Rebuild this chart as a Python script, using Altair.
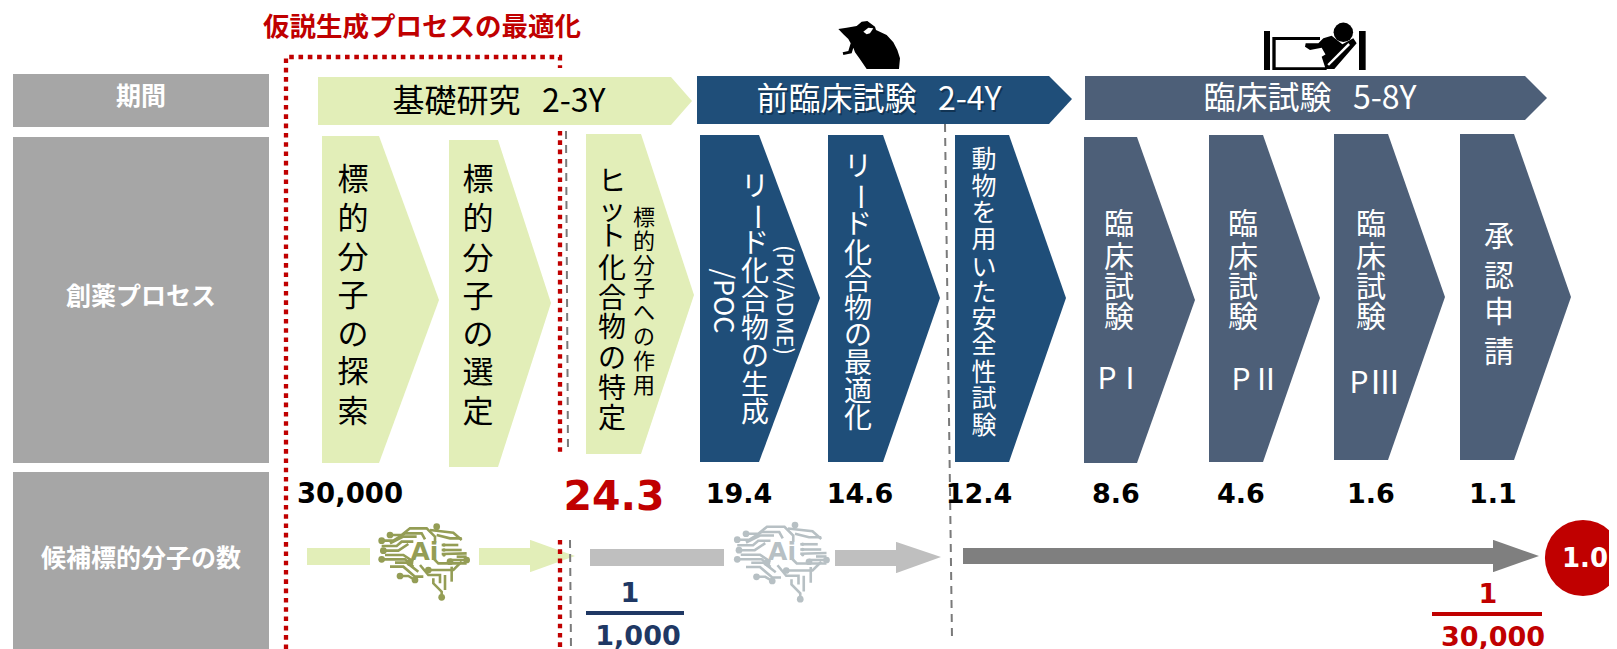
import altair as alt
import pandas as pd

# ---------- palette ----------
PALETTE = {
    "label": "#A6A6A6", "green": "#E2EEB8", "blue": "#1F4E79", "slate": "#4D5F78",
    "lgray": "#BFBFBF", "dgray": "#7F7F7F", "red": "#C00000", "navy": "#1F3864",
    "black": "#000000", "white": "#FFFFFF", "olive": "#949D55", "brain": "#B7C0C4",
    "dash": "#7A7A7A", "shadow": "#0C2A45",
}
ROLES = list(PALETTE)
COL = alt.Color("role:N", scale=alt.Scale(domain=ROLES, range=[PALETTE[r] for r in ROLES]), legend=None)

# ---------- rectangles: role, x0, x1, y0, y1 ----------
rects = [
    ("label", 13, 269, 74, 127), ("label", 13, 269, 137, 463), ("label", 13, 269, 472, 649),
    ("green", 307, 370, 548, 565), ("green", 479, 530, 548, 565),
    ("lgray", 590, 724, 549, 566), ("lgray", 835, 896, 550, 566),
    ("dgray", 963, 1493, 548, 564),
    ("navy", 586, 684, 611, 615), ("red", 1432, 1542, 612, 616),
]
# pentagons: role, left, shoulder, tip, top, tipY, bottom
pentagons = [
    ("green", 318, 671, 692, 77, 101, 125), ("blue", 697, 1049, 1072, 76, 99, 124), ("slate", 1085, 1525, 1547, 76, 98, 120),
    ("green", 322, 379, 439, 136, 300, 463), ("green", 449, 498, 551, 140, 303, 467), ("green", 586, 641, 694, 134, 295, 454),
    ("blue", 700, 759, 820, 135, 298, 462), ("blue", 828, 883, 940, 135, 298, 462), ("blue", 955, 1009, 1066, 135, 298, 462),
    ("slate", 1084, 1137, 1195, 137, 300, 463), ("slate", 1209, 1263, 1320, 135, 298, 462),
    ("slate", 1334, 1388, 1445, 134, 297, 460), ("slate", 1460, 1514, 1571, 134, 297, 460),
    ("green", 530, 530.5, 575, 540, 556, 572), ("lgray", 896, 896.5, 941, 542, 557, 573), ("dgray", 1493, 1493.5, 1539, 540, 556, 572),
]
# dashed / dotted polylines
red_lines = [
    [(286, 649), (286, 57), (560, 57), (560, 68)],
    [(560, 131), (560, 452)],
    [(560, 540), (560, 649)],
]
gray_lines = [
    [(566, 131), (568, 452)], [(570, 540), (571, 649)], [(945, 124), (952, 638)],
]
# horizontal text: text, x, y, size, role
texts_regular = [
    ("基礎研究\u00a0\u00a0\u00a02-3Y", 499, 102, 32, "black"),
    ("前臨床試験\u00a0\u00a0\u00a02-4Y", 879, 100, 32, "white"),
    ("臨床試験\u00a0\u00a0\u00a05-8Y", 1310, 99, 32, "white"),
    ("P", 1107, 380, 30, "white"), ("Ⅰ", 1130, 380, 30, "white"),
    ("P", 1241, 381, 30, "white"), ("Ⅱ", 1266, 381, 30, "white"),
    ("P", 1359, 384, 30, "white"), ("Ⅲ", 1385, 384, 32, "white"),
]
texts_cjk_bold = [
    ("仮説生成プロセスの最適化", 422, 28, 26.5, "red"),
    ("期間", 141, 97, 25, "white"),
    ("創薬プロセス", 141, 297, 25, "white"),
    ("候補標的分子の数", 141, 559, 25, "white"),
]
texts_num = [
    ("30,000", 350, 495, 27.5, "black"), ("24.3", 614, 498, 41, "red"),
    ("19.4", 739, 495, 27, "black"), ("14.6", 860, 495, 27, "black"),
    ("12.4", 979, 495, 27, "black"), ("8.6", 1116, 495, 27, "black"),
    ("4.6", 1241, 495, 27, "black"), ("1.6", 1371, 495, 27, "black"),
    ("1.1", 1493, 495, 27, "black"),
    ("1", 630, 594, 27, "navy"), ("1,000", 638, 637, 27, "navy"),
    ("1", 1488, 595, 27, "red"), ("30,000", 1493, 638, 27, "red"),
    ("1.0", 1585, 559, 26, "white"),
]
texts_rotated = [
    ("/POC", 722, 301, 27, "white"),
    ("(PK/ADME)", 784, 300, 22, "white"),
]
# vertical columns: text, x, y centres, size, role
columns = [
    ("標的分子の探索", 353, [181, 220, 259, 297, 336, 373, 413], 31, "black"),
    ("標的分子の選定", 478, [181, 220, 260, 298, 336, 374, 413], 31, "black"),
    ("ヒット化合物の特定", 612, [183, 212, 238, 270, 300, 329, 360, 390, 420], 28, "black"),
    ("標的分子への作用", 644, [218, 242, 266, 289, 313, 337, 362, 386], 22, "black"),
    ("リード化合物の生成", 755, [188, 217, 245, 273, 302, 330, 358, 387, 414], 28, "white"),
    ("リード化合物の最適化", 858, [168, 197, 226, 255, 282, 310, 337, 365, 393, 420], 28, "white"),
    ("動物を用いた安全性試験", 984, [160, 187, 213, 240, 268, 293, 320, 345, 373, 399, 426], 25, "white"),
    ("臨床試験", 1119, [225, 258, 288, 318], 30, "white"),
    ("臨床試験", 1243, [225, 258, 288, 318], 30, "white"),
    ("臨床試験", 1371, [225, 258, 288, 318], 30, "white"),
    ("承認申請", 1499, [237, 277, 313, 353], 30, "white"),
]
circle_center = [(1583, 558)]

# brain icon: traces in crop pixels (3x)
brain_traces = [
    [(65, 45), (95, 45), (120, 25), (170, 25), (195, 50), (195, 68)],
    [(35, 62), (70, 62), (105, 40), (155, 40), (165, 58)],
    [(180, 30), (250, 38), (275, 60)],
    [(200, 45), (240, 55), (275, 55)],
    [(35, 78), (80, 78), (95, 65), (130, 65)],
    [(40, 92), (85, 92), (115, 72)],
    [(60, 70), (100, 50), (140, 50)],
    [(215, 75), (265, 75)], [(215, 90), (275, 90)], [(215, 102), (290, 100)],
    [(35, 118), (105, 118), (130, 140)],
    [(45, 105), (100, 105), (130, 125)],
    [(60, 140), (100, 140), (135, 170), (160, 170)],
    [(75, 128), (110, 128), (145, 155)],
    [(90, 168), (115, 168), (135, 180)],
    [(170, 150), (250, 150), (275, 125)],
    [(150, 135), (175, 165), (210, 165), (210, 190)],
    [(190, 115), (205, 130), (235, 130), (290, 130)],
    [(240, 120), (290, 120)],
    [(260, 110), (290, 110)],
    [(190, 175), (190, 190), (215, 215), (215, 232)],
    [(225, 165), (225, 210)], [(245, 140), (245, 185)],
]
brain_dots = [(60, 45), (35, 118), (120, 128), (90, 168), (135, 180), (215, 232),
              (200, 20), (290, 120), (240, 125), (175, 150), (40, 92), (35, 62)]
brain_small = [(222, 75), (222, 90), (222, 105)]
brain_places = [("olive", 370, 520, 1.0), ("brain", 725, 518, 1.05)]

# mouse icon outline (crop px, origin 820,15, 3x)
mouse_body = [(55, 42), (80, 38), (110, 33), (125, 20), (142, 18), (165, 35), (168, 45), (200, 60), (220, 82), (232, 105),
              (240, 130), (237, 162), (140, 162), (118, 130), (105, 112), (100, 98), (95, 115), (70, 120), (68, 112),
              (85, 108), (92, 85), (85, 72), (70, 58)]
mouse_ear = [(130, 50), (145, 38), (160, 40), (150, 55), (140, 58)]
# bed icon (crop px, origin 1255,15, 3x)
bed_black = [
    [(27, 48), (45, 48), (45, 165), (27, 165)],
    [(312, 48), (332, 48), (332, 165), (312, 165)],
    [(52, 66), (195, 66), (195, 75), (62, 75), (62, 157), (215, 157), (215, 165), (52, 165)],
    [(205, 70), (230, 62), (262, 88), (218, 130), (200, 98), (165, 105), (150, 95), (152, 85), (190, 85)],
    [(200, 125), (262, 88), (295, 70), (305, 85), (238, 162), (212, 162)],
]
bed_white = [[(217, 148), (222, 152), (285, 90), (280, 84)]]
head_center = [(265, 52)]


def rowsline(lines, role):
    return [dict(id=f"{role}{k}", i=i, x=x, y=y, role=role)
            for k, ln in enumerate(lines) for i, (x, y) in enumerate(ln)]


def txt(rows, angle=0):
    return [dict(text=t, x=x, y=y, size=s, role=r, angle=angle) for t, x, y, s, r in rows]


sx = alt.Scale(domain=[8, 1609], nice=False, zero=False)
sy = alt.Scale(domain=[649, 8], nice=False, zero=False)
X = alt.X("x:Q", scale=sx, axis=None)
Y = alt.Y("y:Q", scale=sy, axis=None)

rect_df = pd.DataFrame([dict(role=r, x=a, x2=b, y=c, y2=d) for r, a, b, c, d in rects])
l_rect = alt.Chart(rect_df).mark_rect().encode(x=X, x2="x2:Q", y=Y, y2="y2:Q", color=COL)

pent_rows = []
for k, (r, left, sh, tip, top, mid, bot) in enumerate(pentagons):
    for i, (xx, y0, y1) in enumerate([(left, top, bot), (sh, top, bot), (tip, mid, mid)]):
        pent_rows.append(dict(id=k, i=i, x=xx, y=y0, y2=y1, role=r))
l_pent = alt.Chart(pd.DataFrame(pent_rows)).mark_area(interpolate="linear", opacity=1).encode(
    x=X, y=alt.Y("y:Q", scale=sy, axis=None, stack=None), y2="y2:Q", color=COL, detail="id:N")

l_red = alt.Chart(pd.DataFrame(rowsline(red_lines, "red"))).mark_line(
    strokeWidth=4.3, strokeDash=[4.6, 4.7], strokeCap="butt", strokeJoin="miter").encode(
    x=X, y=Y, color=COL, detail="id:N", order="i:Q")
l_gray = alt.Chart(pd.DataFrame(rowsline(gray_lines, "dash"))).mark_line(
    strokeWidth=2, strokeDash=[8, 6]).encode(x=X, y=Y, color=COL, detail="id:N", order="i:Q")


def text_layer(df, **kw):
    return alt.Chart(df).mark_text(align="center", baseline="middle", **kw).encode(
        x=X, y=Y, text="text:N", color=COL,
        size=alt.Size("size:Q", scale=None), angle=alt.Angle("angle:Q", scale=None))


reg_rows = txt(texts_regular) + txt(texts_rotated, 90)
for s, x, ys, size, role in columns:
    for ch, y in zip(s, ys):
        reg_rows.append(dict(text=ch, x=x, y=y, size=size, role=role, angle=90 if ch == "ー" else 0))
shadow_rows = [dict(text=texts_regular[1][0], x=880.5, y=101.5, size=32, role="shadow", angle=0)]
l_shadow = text_layer(pd.DataFrame(shadow_rows), font="Noto Sans CJK JP", opacity=0.7)
l_reg = text_layer(pd.DataFrame(reg_rows), font="Noto Sans CJK JP")
l_bold = text_layer(pd.DataFrame(txt(texts_cjk_bold)), font="Noto Sans CJK JP", fontWeight="bold")
l_num = text_layer(pd.DataFrame(txt(texts_num)), font="DejaVu Sans", fontWeight="bold")

l_circle = alt.Chart(pd.DataFrame([dict(x=a, y=b, role="red") for a, b in circle_center])).mark_circle(
    size=5800, opacity=1).encode(x=X, y=Y, color=COL)

# brains
tr_rows, dot_rows, small_rows, ai_rows = [], [], [], []
for role, ox, oy, k in brain_places:
    for n, ln in enumerate(brain_traces):
        for i, (px, py) in enumerate(ln):
            tr_rows.append(dict(id=f"{role}{n}", i=i, x=ox + px * k / 3, y=oy + py * k / 3, role=role))
    dot_rows += [dict(x=ox + p * k / 3, y=oy + q * k / 3, role=role) for p, q in brain_dots]
    small_rows += [dict(x=ox + p * k / 3, y=oy + q * k / 3, role=role) for p, q in brain_small]
    ai_rows.append(dict(text="Ai", x=ox + 163 * k / 3, y=oy + 97 * k / 3, size=25, role=role, angle=0))
l_tr = alt.Chart(pd.DataFrame(tr_rows)).mark_line(strokeWidth=2.6).encode(x=X, y=Y, color=COL, detail="id:N", order="i:Q")
l_dot = alt.Chart(pd.DataFrame(dot_rows)).mark_circle(size=45, opacity=1).encode(x=X, y=Y, color=COL)
l_small = alt.Chart(pd.DataFrame(small_rows)).mark_circle(size=12, opacity=1).encode(x=X, y=Y, color=COL)
l_ai = text_layer(pd.DataFrame(ai_rows), font="DejaVu Sans", fontWeight="bold")


# icons: filled shapes as custom symbols, anchored at crop origin
def poly_path(pts, span):
    return "M" + "L".join(f"{p / span * 2:.4f},{q / span * 2:.4f}" for p, q in pts) + "Z"


def icon(polys, ox, oy, role):
    span = 360  # crop px covered by unit symbol
    path = "".join(poly_path(p, span) for p in polys)
    return alt.Chart(pd.DataFrame([dict(x=ox, y=oy, role=role)])).mark_point(
        shape=path, filled=True, opacity=1, size=(span / 3) ** 2, strokeWidth=0).encode(x=X, y=Y, color=COL)


l_mouse = icon([mouse_body], 820, 15, "black")
l_ear = icon([mouse_ear], 820, 15, "white")
l_bed = icon(bed_black, 1255, 15, "black")
l_bed_w = icon(bed_white, 1255, 15, "white")
l_head = alt.Chart(pd.DataFrame([dict(x=1255 + a / 3, y=15 + b / 3, role="black") for a, b in head_center])).mark_circle(
    size=380, opacity=1).encode(x=X, y=Y, color=COL)

chart = alt.layer(
    l_rect, l_pent, l_red, l_gray, l_circle, l_tr, l_dot, l_small, l_ai,
    l_mouse, l_ear, l_bed, l_bed_w, l_head, l_shadow, l_reg, l_bold, l_num,
).properties(width=1601, height=641, padding=0, autosize="none", background="white").configure_view(stroke=None)

chart.save("out.html", embed_options={"renderer": "svg", "actions": False})
